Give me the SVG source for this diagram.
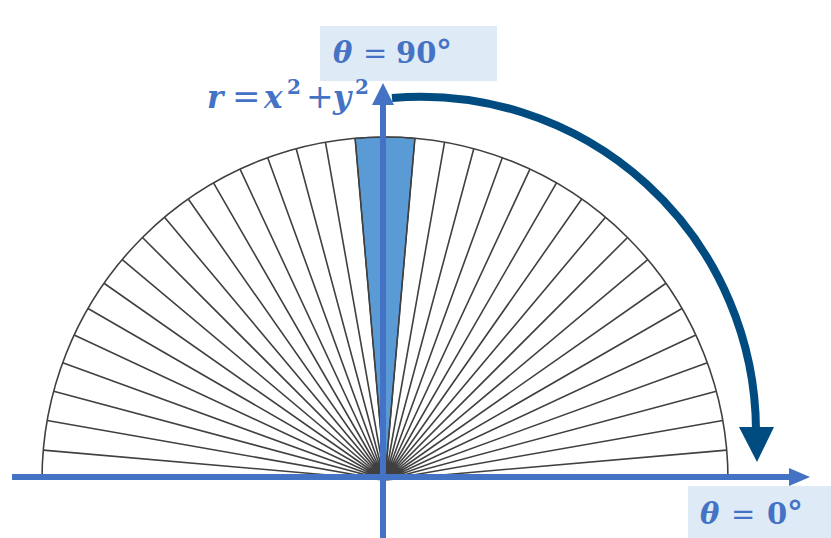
<svg xmlns="http://www.w3.org/2000/svg" width="831" height="538" viewBox="0 0 831 538">
<style>
.spk{fill:none;stroke:#404040;stroke-width:1.6}
.ax{stroke:#4472C4;stroke-width:6;fill:none}
.axh{fill:#4472C4}
.lbl{font-family:"DejaVu Serif",serif;font-weight:bold;fill:#4472C4}
.it{font-style:italic}
.n{font-weight:normal}
.box{fill:#DEEBF7}
</style>
<rect width="831" height="538" fill="#ffffff"/>
<g id="semicircle">
<path d="M385,480 L414.90,138.30 A343 343 0 0 0 355.10,138.30 Z" fill="#5B9BD5" stroke="#3a3a3a" stroke-width="1.2"/>
<path class="spk" d="M385,480L726.70,450.10M385,480L722.79,420.44M385,480L716.31,391.22M385,480L707.31,362.69M385,480L695.86,335.04M385,480L682.05,308.50M385,480L665.97,283.26M385,480L647.75,259.52M385,480L627.54,237.46M385,480L605.48,217.25M385,480L581.74,199.03M385,480L556.50,182.95M385,480L529.96,169.14M385,480L502.31,157.69M385,480L473.78,148.69M385,480L444.56,142.21M385,480L414.90,138.30M385,480L355.10,138.30M385,480L325.44,142.21M385,480L296.22,148.69M385,480L267.69,157.69M385,480L240.04,169.14M385,480L213.50,182.95M385,480L188.26,199.03M385,480L164.52,217.25M385,480L142.46,237.46M385,480L122.25,259.52M385,480L104.03,283.26M385,480L88.00,308.50M385,480L74.14,335.04M385,480L62.69,362.69M385,480L53.69,391.22M385,480L47.21,420.44M385,480L43.30,450.10"/>
<path class="spk" d="M42,480 A343 343 0 0 1 728,480"/>
</g>
<g id="connectors">
<line class="ax" x1="12" y1="477" x2="792" y2="477"/>
<polygon class="axh" points="789,468 810,477 789,486"/>
<line class="ax" x1="383" y1="538" x2="383" y2="103"/>
<polygon class="axh" points="372,105 394,105 383,83"/>
<path d="M392,98 A335 335 0 0 1 756,430" fill="none" stroke="#004B80" stroke-width="8"/>
<polygon points="739,427 774,427 757,462" fill="#004B80"/>
</g>
<g id="label-90">
<rect class="box" x="320" y="26" width="177" height="55"/>
<text class="lbl" y="63" font-size="29"><tspan class="it" x="333">θ</tspan><tspan class="n" x="363">=</tspan><tspan x="396">90</tspan><tspan x="436" font-size="32">°</tspan></text>
</g>
<g id="label-0">
<rect class="box" x="688" y="486" width="143" height="52"/>
<text class="lbl" y="524" font-size="29"><tspan class="it" x="700">θ</tspan><tspan class="n" x="731">=</tspan><tspan x="767">0</tspan><tspan x="787" font-size="32">°</tspan></text>
</g>
<g id="label-r">
<text class="lbl" y="108" font-size="31"><tspan class="it" x="207">r</tspan><tspan class="n" x="232" font-size="34">=</tspan><tspan class="it" x="264">x</tspan><tspan x="287" font-size="20" dy="-14">2</tspan><tspan class="n" x="306" dy="14" font-size="33">+</tspan><tspan class="it" x="333">y</tspan><tspan x="355" font-size="20" dy="-14">2</tspan></text>
</g>
</svg>
